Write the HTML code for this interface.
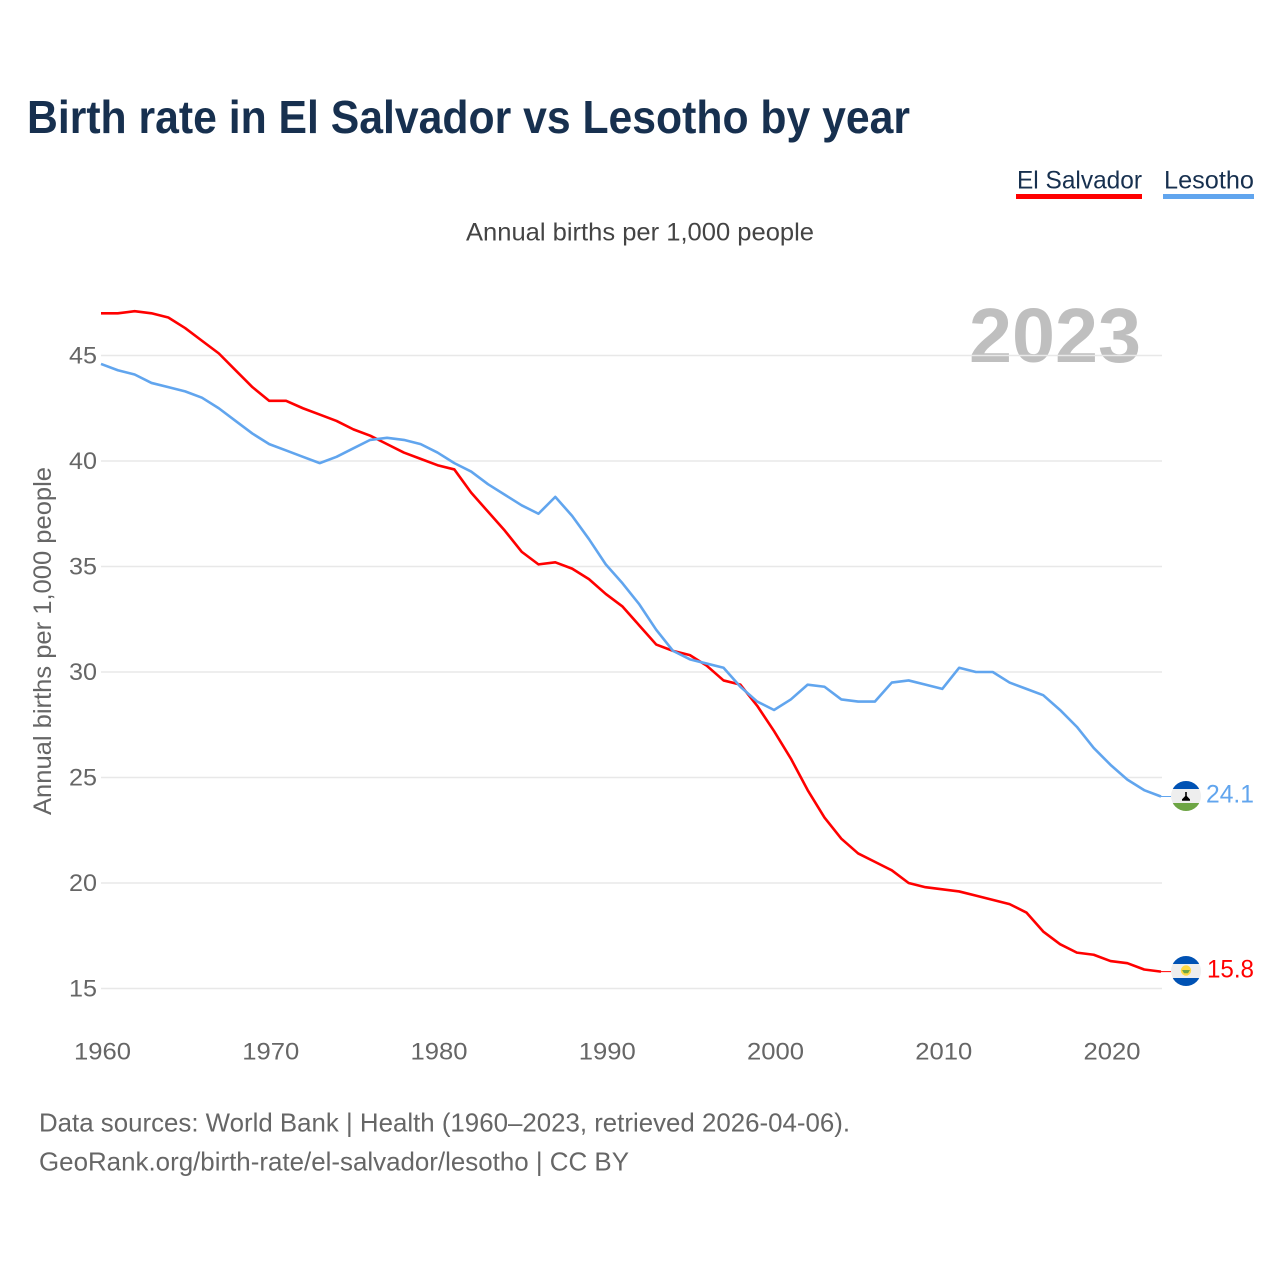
<!DOCTYPE html>
<html lang="en">
<head>
<meta charset="utf-8">
<title>Birth rate in El Salvador vs Lesotho by year</title>
<style>
html,body{margin:0;padding:0;background:#fff;width:1280px;height:1280px;overflow:hidden}
svg{display:block}
text{font-family:"Liberation Sans",sans-serif}
</style>
</head>
<body>
<svg id="chart" xmlns="http://www.w3.org/2000/svg" width="1280" height="1280" viewBox="0 0 1280 1280">
  <rect width="1280" height="1280" fill="#fff"/>
  <text x="27" y="133" font-size="46" font-weight="700" fill="#17304f" textLength="883" lengthAdjust="spacingAndGlyphs">Birth rate in El Salvador vs Lesotho by year</text>
  <g>
    <text x="1017" y="188.5" font-size="25" fill="#17304f" textLength="125" lengthAdjust="spacingAndGlyphs">El Salvador</text>
    <rect x="1016" y="194" width="126" height="5" fill="#ff0000"/>
  </g>
  <g>
    <text x="1164" y="188.5" font-size="25" fill="#17304f" textLength="90" lengthAdjust="spacingAndGlyphs">Lesotho</text>
    <rect x="1163" y="194" width="91" height="5" fill="#61a5ee"/>
  </g>
  <text x="466" y="240.5" font-size="25" fill="#444" textLength="348" lengthAdjust="spacingAndGlyphs">Annual births per 1,000 people</text>
  <text transform="translate(51,815) rotate(-90)" font-size="25" fill="#666" textLength="348" lengthAdjust="spacingAndGlyphs">Annual births per 1,000 people</text>
  <text x="969" y="362" font-size="77" font-weight="700" fill="#bfbfbf" textLength="172" lengthAdjust="spacingAndGlyphs">2023</text>
  <g id="grid"></g>
  <g id="yticks"></g>
  <g id="xticks"></g>
  <g id="series"></g>
  <defs>
    <clipPath id="clip-ls"><circle cx="1186" cy="796" r="15"/></clipPath>
    <clipPath id="clip-sv"><circle cx="1186" cy="971" r="15"/></clipPath>
  </defs>
  <g clip-path="url(#clip-ls)">
    <rect x="1171" y="781" width="30" height="30" fill="#eeeeee"/>
    <rect x="1171" y="781" width="30" height="8" fill="#0052b4"/>
    <rect x="1171" y="803" width="30" height="8" fill="#6da544"/>
    <path d="M1185.2 792h1.6v4l3.2 3.4v1.4h-8v-1.4l3.2-3.4z" fill="#000"/>
  </g>
  <g clip-path="url(#clip-sv)">
    <rect x="1171" y="956" width="30" height="30" fill="#eeeeee"/>
    <rect x="1171" y="956" width="30" height="8" fill="#0052b4"/>
    <rect x="1171" y="978" width="30" height="8" fill="#0052b4"/>
    <circle cx="1186" cy="970.5" r="5.2" fill="#ffda44"/>
    <path d="M1182 970h8l-2 3.2h-4z" fill="#6da544"/>
  </g>
  <text id="value-ls" x="1206" y="802.5" font-size="25" fill="#61a5ee" textLength="48" lengthAdjust="spacingAndGlyphs"></text>
  <text id="value-sv" x="1207" y="977.5" font-size="25" fill="#ff0000" textLength="47" lengthAdjust="spacingAndGlyphs"></text>
  <text x="39" y="1131.5" font-size="26" fill="#666" textLength="811" lengthAdjust="spacingAndGlyphs">Data sources: World Bank | Health (1960–2023, retrieved 2026-04-06).</text>
  <text x="39" y="1170.5" font-size="26" fill="#666" textLength="590" lengthAdjust="spacingAndGlyphs">GeoRank.org/birth-rate/el-salvador/lesotho | CC BY</text>
</svg>
<script>
const years = [1960,1961,1962,1963,1964,1965,1966,1967,1968,1969,1970,1971,1972,1973,1974,1975,1976,1977,1978,1979,1980,1981,1982,1983,1984,1985,1986,1987,1988,1989,1990,1991,1992,1993,1994,1995,1996,1997,1998,1999,2000,2001,2002,2003,2004,2005,2006,2007,2008,2009,2010,2011,2012,2013,2014,2015,2016,2017,2018,2019,2020,2021,2022,2023];
const elSalvador = [47.0,47.0,47.1,47.0,46.8,46.3,45.7,45.1,44.3,43.5,42.85,42.85,42.5,42.2,41.9,41.5,41.2,40.8,40.4,40.1,39.8,39.6,38.5,37.6,36.7,35.7,35.1,35.2,34.9,34.4,33.7,33.1,32.2,31.3,31.0,30.8,30.3,29.6,29.4,28.4,27.2,25.9,24.4,23.1,22.1,21.4,21.0,20.6,20.0,19.8,19.7,19.6,19.4,19.2,19.0,18.6,17.7,17.1,16.7,16.6,16.3,16.2,15.9,15.8];
const lesotho = [44.6,44.3,44.1,43.7,43.5,43.3,43.0,42.5,41.9,41.3,40.8,40.5,40.2,39.9,40.2,40.6,41.0,41.1,41.0,40.8,40.4,39.9,39.5,38.9,38.4,37.9,37.5,38.3,37.4,36.3,35.1,34.2,33.2,32.0,31.0,30.6,30.4,30.2,29.3,28.6,28.2,28.7,29.4,29.3,28.7,28.6,28.6,29.5,29.6,29.4,29.2,30.2,30.0,30.0,29.5,29.2,28.9,28.2,27.4,26.4,25.6,24.9,24.4,24.1];
const yTickValues = [15,20,25,30,35,40,45];
const xTickValues = [1960,1970,1980,1990,2000,2010,2020];

const NS = 'http://www.w3.org/2000/svg';
const xScale = function (year) { return 101 + (year - 1960) * (1161 - 101) / 63; };
const yScale = function (value) { return 988.5 - (value - 15) * 21.1; };
const make = function (tag, parent) {
  const el = document.createElementNS(NS, tag);
  parent.appendChild(el);
  return el;
};

const grid = document.getElementById('grid');
const yticks = document.getElementById('yticks');
const xticks = document.getElementById('xticks');
const series = document.getElementById('series');

yTickValues.forEach(function (v) {
  const line = make('line', grid);
  
  
  line.setAttribute('x1', 101);
  line.setAttribute('x2', 1162);
  line.setAttribute('y1', yScale(v));
  line.setAttribute('y2', yScale(v));
  line.setAttribute('stroke', '#e8e8e8');
  line.setAttribute('stroke-width', 1.5);

  const label = make('text', yticks);
  
  
  label.setAttribute('x', 69);
  label.setAttribute('y', yScale(v) + 8);
  label.setAttribute('font-size', 24);
  label.setAttribute('fill', '#666');
  label.setAttribute('textLength', 28);
  label.setAttribute('lengthAdjust', 'spacingAndGlyphs');
  label.textContent = String(v);
});

xTickValues.forEach(function (v) {
  const label = make('text', xticks);
  
  
  label.setAttribute('x', xScale(v) - 27);
  label.setAttribute('y', 1059.5);
  label.setAttribute('font-size', 24);
  label.setAttribute('fill', '#666');
  label.setAttribute('textLength', 57);
  label.setAttribute('lengthAdjust', 'spacingAndGlyphs');
  label.textContent = String(v);
});

const points = function (values) {
  return values.map(function (v, i) { return xScale(years[i]).toFixed(2) + ',' + yScale(v).toFixed(2); }).join(' ');
};

const connLs = make('line', series);


connLs.setAttribute('x1', xScale(2023));
connLs.setAttribute('x2', 1171);
connLs.setAttribute('y1', yScale(lesotho[lesotho.length - 1]));
connLs.setAttribute('y2', yScale(lesotho[lesotho.length - 1]));
connLs.setAttribute('stroke', '#61a5ee');
connLs.setAttribute('stroke-width', 1);

const connSv = make('line', series);


connSv.setAttribute('x1', xScale(2023));
connSv.setAttribute('x2', 1171);
connSv.setAttribute('y1', yScale(elSalvador[elSalvador.length - 1]));
connSv.setAttribute('y2', yScale(elSalvador[elSalvador.length - 1]));
connSv.setAttribute('stroke', '#ff0000');
connSv.setAttribute('stroke-width', 1);

const lineSv = make('polyline', series);


lineSv.setAttribute('points', points(elSalvador));
lineSv.setAttribute('fill', 'none');
lineSv.setAttribute('stroke', '#ff0000');
lineSv.setAttribute('stroke-width', 2.6);
lineSv.setAttribute('stroke-linejoin', 'round');

const lineLs = make('polyline', series);


lineLs.setAttribute('points', points(lesotho));
lineLs.setAttribute('fill', 'none');
lineLs.setAttribute('stroke', '#61a5ee');
lineLs.setAttribute('stroke-width', 2.6);
lineLs.setAttribute('stroke-linejoin', 'round');

document.getElementById('value-ls').textContent = lesotho[lesotho.length - 1].toFixed(1);
document.getElementById('value-sv').textContent = elSalvador[elSalvador.length - 1].toFixed(1);
</script>
</body>
</html>
